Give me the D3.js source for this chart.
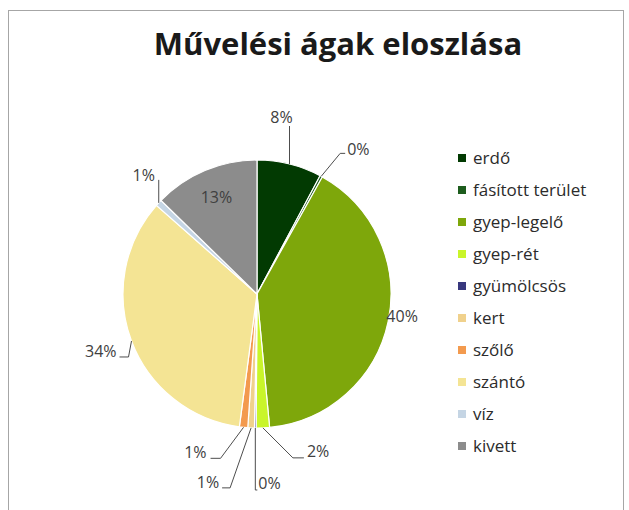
<!DOCTYPE html>
<html>
<head>
<meta charset="utf-8">
<script src="https://cdn.jsdelivr.net/npm/d3@7/dist/d3.min.js"></script>
<style>
  body { margin: 0; background: #fff; }
  text { font-family: 'Open Sans', 'DejaVu Sans', sans-serif; }
</style>
</head>
<body>
<svg id="svg" width="629" height="510"></svg>
<script>
// data (share of area, %)
var categories = ['erdő', 'fásított terület', 'gyep-legelő', 'gyep-rét', 'gyümölcsös',
                  'kert', 'szőlő', 'szántó', 'víz', 'kivett'];
var shares = [7.8, 0.3, 40.4, 1.6, 0.2, 0.8, 1.0, 34.4, 0.8, 12.7];
var colors = ['#023a02', '#1d5c1d', '#7ea70b', '#c9f52a', '#38387e',
              '#f0d18c', '#f39a4e', '#f4e494', '#c5d5e4', '#8c8c8c'];
var title = 'Művelési ágak eloszlása';

// where excel put each data label, relative to the slice's outer edge
// t = text offset, a = anchor, p = leader bend points
var labelLayout = [
    {t: [-8, -47], a: 'middle', p: [[0, -38]]},
    {t: [26, -27], a: 'start', p: [[19, -23], [24, -23]]},
    {t: [14, -5], a: 'middle', p: []},
    {t: [44, 24], a: 'start', p: [[30, 30], [41, 30]]},
    {t: [3, 55], a: 'start', p: [[0, 62], [2, 62]]},
    {t: [-32, 55], a: 'end', p: [[-21, 60], [-29, 60]]},
    {t: [-37, 25], a: 'end', p: [[-23, 31], [-33, 31]]},
    {t: [-15, 10], a: 'end', p: [[-3, 16], [-12, 16]]},
    {t: [-15, -28], a: 'middle', p: [[0, -23]]},
    {inside: true}
];

var W = 629, H = 510,
    cx = 257, cy = 294, R = 134;

function genFrame(s){
    s.append('rect')
        .attr('x', 8.5).attr('y', 10.5)
        .attr('width', 615).attr('height', 520)
        .attr('fill', '#fff')
        .attr('stroke', '#a6a6a6');
    s.append('text')
        .attr('x', 338).attr('y', 55)
        .attr('text-anchor', 'middle')
        .attr('font-size', 31)
        .attr('font-weight', 'bold')
        .attr('fill', '#1a1a1a')
        .text(title);
}

function genPie(s){
    var pie = d3.pie().sort(null).value(function(d){ return d; });
    var arcs = pie(shares);
    var arc = d3.arc().innerRadius(0).outerRadius(R);
    var fmt = d3.format('.0%');
    var g = s.append('g').attr('transform', 'translate(' + cx + ',' + cy + ')');

    g.selectAll('path.slice')
        .data(arcs)
        .enter()
        .append('path')
        .attr('class', 'slice')
        .attr('d', arc)
        .attr('fill', function(d, i){ return colors[i]; })
        .attr('stroke', '#fff')
        .attr('stroke-width', 1.2);

    arcs.forEach(function(d, i){
        var lay = labelLayout[i],
            mid = (d.startAngle + d.endAngle) / 2,
            ex = R * Math.sin(mid),
            ey = -R * Math.cos(mid),
            txt = fmt(d.value / 100);
        if(lay.inside){
            var c = d3.arc().innerRadius(0).outerRadius(R * 1.56).centroid(d);
            g.append('text')
                .attr('x', c[0]).attr('y', c[1])
                .attr('dy', '0.35em')
                .attr('text-anchor', 'middle')
                .attr('font-size', 16)
                .attr('fill', '#404040')
                .text(txt);
            return;
        }
        if(lay.p.length){
            var pts = [[ex, ey]].concat(lay.p.map(function(q){ return [ex + q[0], ey + q[1]]; }));
            g.append('path')
                .attr('d', d3.line()(pts))
                .attr('fill', 'none')
                .attr('stroke', '#4d4d4d')
                .attr('stroke-width', 1);
        }
        g.append('text')
            .attr('x', ex + lay.t[0]).attr('y', ey + lay.t[1])
            .attr('dy', '0.35em')
            .attr('text-anchor', lay.a)
            .attr('font-size', 16)
            .attr('fill', '#404040')
            .text(txt);
    });
}

function genLegend(s){
    var y = d3.scalePoint().domain(categories).range([158, 446]);
    var g = s.append('g');
    var row = g.selectAll('g.item')
        .data(categories)
        .enter()
        .append('g')
        .attr('class', 'item')
        .attr('transform', function(d){ return 'translate(458,' + y(d) + ')'; });
    row.append('rect')
        .attr('x', 0).attr('y', -4)
        .attr('width', 8).attr('height', 8)
        .attr('fill', function(d, i){ return colors[i]; });
    row.append('text')
        .attr('x', 15).attr('y', 0)
        .attr('dy', '0.35em')
        .attr('font-size', 17)
        .attr('fill', '#2b2b2b')
        .text(function(d){ return d; });
}

var s = d3.select('#svg');
genFrame(s);
genPie(s);
genLegend(s);
</script>
</body>
</html>
